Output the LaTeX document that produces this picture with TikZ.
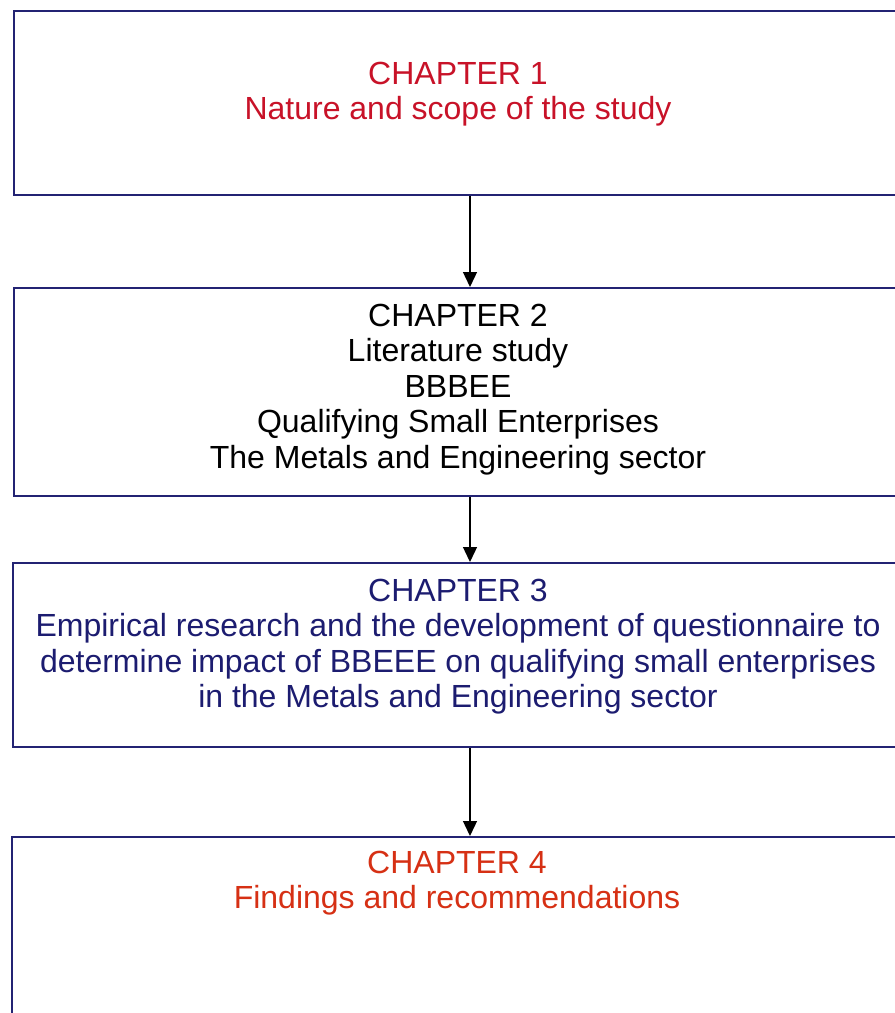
\documentclass[tikz,border=0pt]{standalone}
\usepackage{fontspec}
\setmainfont{Liberation Sans}
\usetikzlibrary{arrows.meta}
\definecolor{boxline}{RGB}{35,35,115}
\definecolor{chred}{RGB}{200,18,40}
\definecolor{chblue}{RGB}{28,28,112}
\definecolor{chorange}{RGB}{214,48,20}
\tikzset{
  chapbox/.style={draw=boxline, line width=2pt, rectangle, inner sep=0pt, anchor=north west, minimum width=897pt},
  chaptext/.style={inner sep=0pt, anchor=north, align=center, font=\fontsize{32}{35.5}\selectfont},
  flow/.style={draw=black, line width=1.3pt, -{Triangle[length=15pt,width=14pt]}}
}
\begin{document}
\begin{tikzpicture}[x=1pt,y=-1pt]
\clip (0,0) rectangle (895,1013);
\fill[white] (0,0) rectangle (895,1013);
\node[chapbox, minimum height=184pt] (b1) at (13,10) {};
\node[chapbox, minimum height=208pt] (b2) at (13,287) {};
\node[chapbox, minimum height=184pt, minimum width=898pt] (b3) at (12,562) {};
\node[chapbox, minimum height=194pt, minimum width=899pt] (b4) at (11,836) {};
\coordinate (ax) at (470,0);
\node[chaptext, text=chred] (t1) at (458,61.5) {CHAPTER 1\\Nature and scope of the study};
\node[chaptext, text=black] (t2) at (458,303.5) {CHAPTER 2\\Literature study\\BBBEE\\Qualifying Small Enterprises\\The Metals and Engineering sector};
\node[chaptext, text=chblue] (t3) at (458,578.5) {CHAPTER 3\\Empirical research and the development of questionnaire to\\determine impact of BBEEE on qualifying small enterprises\\in the Metals and Engineering sector};
\node[chaptext, text=chorange] (t4) at (457,850.5) {CHAPTER 4\\Findings and recommendations};
\draw[flow] (b1.south -| ax) -- (b2.north -| ax);
\draw[flow] (b2.south -| ax) -- (b3.north -| ax);
\draw[flow] (b3.south -| ax) -- (b4.north -| ax);
\end{tikzpicture}
\end{document}
